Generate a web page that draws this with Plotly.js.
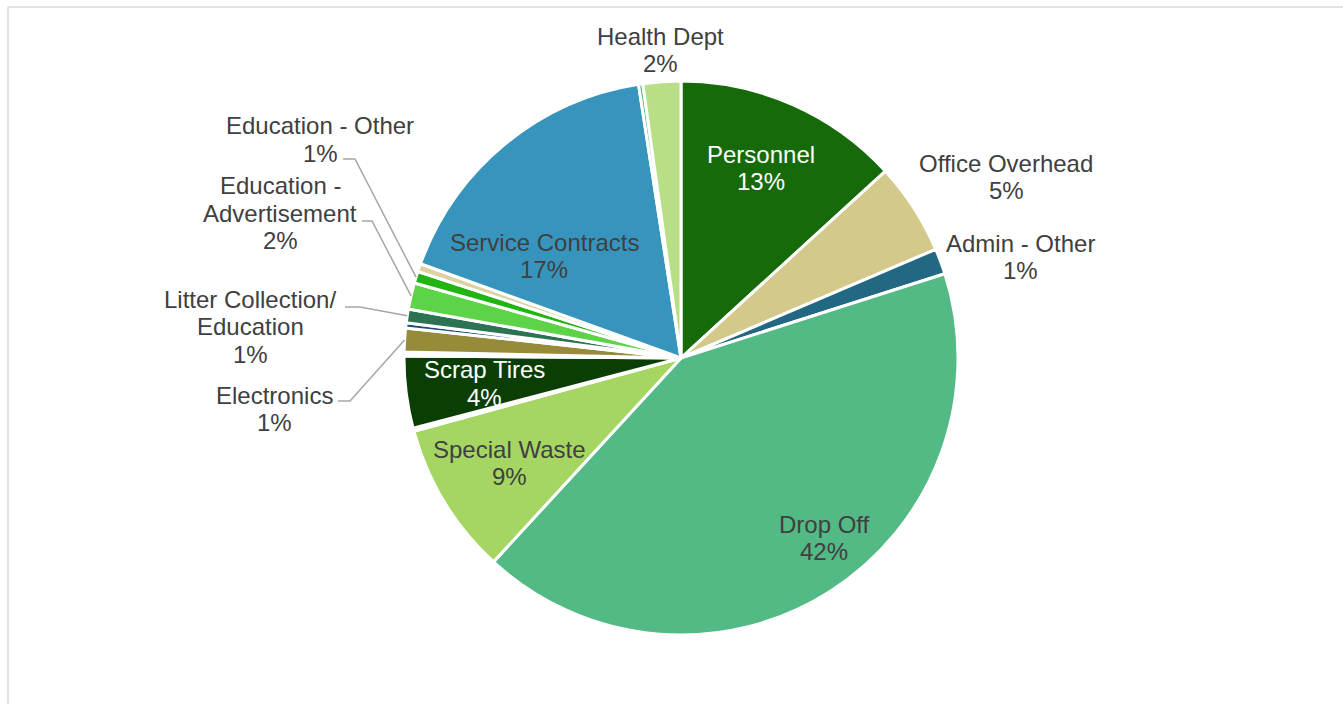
<!DOCTYPE html>
<html>
<head>
<meta charset="utf-8">
<script src="https://cdn.plot.ly/plotly-3.0.1.min.js"></script>
<style>html,body{margin:0;padding:0;background:#fff;}#chart{width:1343px;height:704px;}</style>
</head>
<body>
<div id="chart"></div>
<script>
// ---- data (clockwise from 12 o'clock) ----
const categories = ["Personnel","Office Overhead","Admin - Other","Drop Off","Special Waste","Other A","Scrap Tires","Other B","Electronics","Other C","Litter Collection/ Education","Education - Advertisement","Education - Other","Other D","Service Contracts","Other E","Health Dept"];
const values = [13.2,5.36,1.5,41.7,8.9,0.17,4.2,0.22,1.39,0.3,0.8,1.53,0.69,0.47,17.0,0.25,2.2];
const pctLabels = ["13%","5%","1%","42%","9%","","4%","","1%","","1%","2%","1%","","17%","","2%"];
const colors = ["#176A0A","#D3C98A","#236882","#53B985","#A5D662","#9DB38C","#0B3E05","#FFFFFF","#978B3A","#1F4E79","#2B7352","#5DD447","#20B513","#DCD2A2","#3795BD","#52B985","#B8DE86"];

// ---- layout (pixels) ----
const W = 1343, H = 704;
const CX = 681, CY = 358, R = 277;
const px = x => x / W;
const py = y => 1 - y / H;
const LINE = 27.5;

// label placement: [index, lines, centerX, firstLineY, color]
const labelPos = [
  [16, ["Health Dept"], 660, 36, "#404040"],
  [0, ["Personnel"], 761, 154, "#FFFFFF"],
  [1, ["Office Overhead"], 1006, 163, "#404040"],
  [2, ["Admin - Other"], 1020, 243, "#404040"],
  [3, ["Drop Off"], 824, 524, "#404040"],
  [4, ["Special Waste"], 509, 449, "#404040"],
  [6, ["Scrap Tires"], 484, 370, "#FFFFFF"],
  [14, ["Service Contracts"], 544, 242, "#404040"],
  [12, ["Education - Other"], 320, 126, "#404040"],
  [11, ["Education -", "Advertisement"], 280, 186, "#404040"],
  [10, ["Litter Collection/", "Education"], 250, 299, "#404040"],
  [8, ["Electronics"], 274, 395, "#404040"]
];
// leader lines: [index, startX, elbowX, y]
const leaders = [
  [12, 343, 355, 159],
  [11, 362, 372, 221],
  [10, 345, 360, 307],
  [8, 338, 350, 401]
];

const total = values.reduce((a, b) => a + b, 0);
const midAngle = [];
let cum = 0;
values.forEach(v => { midAngle.push((cum + v / 2) / total * 360); cum += v; });

const annotations = [];
labelPos.forEach(([i, lines, x, y, col]) => {
  const all = lines.concat([pctLabels[i]]);
  all.forEach((t, k) => {
    annotations.push({
      text: t, x: px(x), y: py(y + k * LINE), xref: "paper", yref: "paper",
      xanchor: "center", yanchor: "middle", showarrow: false,
      font: {family: "Liberation Sans, Arial, sans-serif", size: 24, color: col}
    });
  });
});

const shapes = [{
  type: "rect", xref: "paper", yref: "paper",
  x0: px(8), x1: 1.05, y0: -0.05, y1: py(7),
  line: {color: "#D9D9D9", width: 1.5}, fillcolor: "rgba(0,0,0,0)"
}];
leaders.forEach(([i, sx, ex, y]) => {
  const a = midAngle[i] * Math.PI / 180;
  const endX = CX + R * Math.sin(a), endY = CY - R * Math.cos(a);
  shapes.push({
    type: "path", xref: "paper", yref: "paper",
    path: `M ${px(sx)} ${py(y)} L ${px(ex)} ${py(y)} L ${px(endX)} ${py(endY)}`,
    line: {color: "#A6A6A6", width: 1.5}
  });
});

const trace = {
  type: "pie",
  labels: categories,
  values: values,
  sort: false,
  direction: "clockwise",
  rotation: 0,
  textinfo: "none",
  hoverinfo: "label+percent",
  marker: {colors: colors, line: {color: "#FFFFFF", width: 3}},
  domain: {x: [px(CX - R), px(CX + R)], y: [py(CY + R), py(CY - R)]},
  showlegend: false
};

Plotly.newPlot("chart", [trace], {
  width: W, height: H,
  margin: {l: 0, r: 0, t: 0, b: 0},
  paper_bgcolor: "#FFFFFF",
  showlegend: false,
  annotations: annotations,
  shapes: shapes
}, {displayModeBar: false, staticPlot: true});
</script>
</body>
</html>
